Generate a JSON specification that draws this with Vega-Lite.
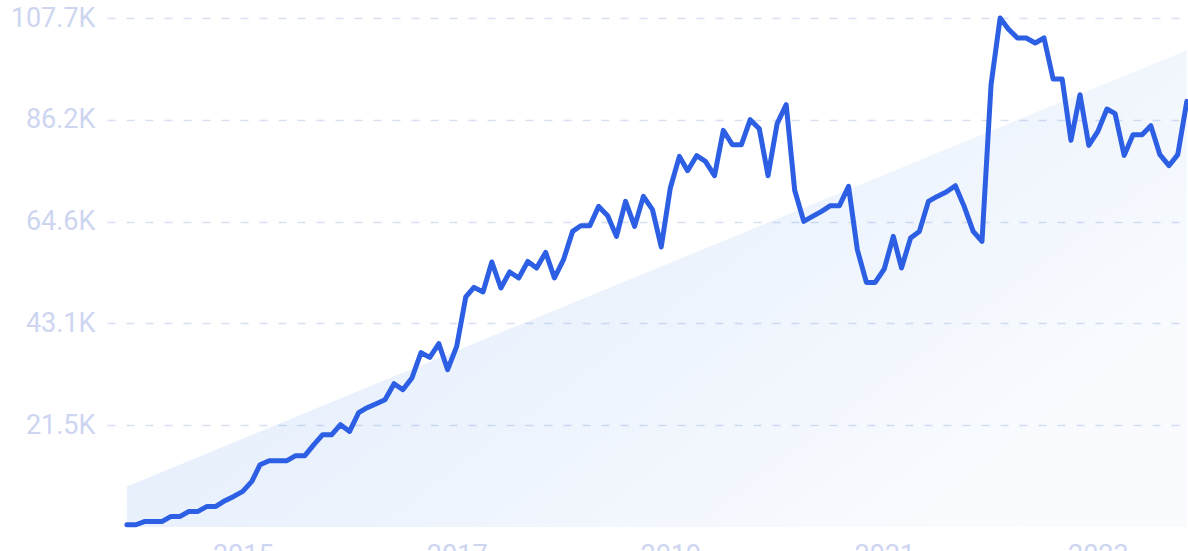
{
  "$schema": "https://vega.github.io/schema/vega-lite/v6.json",
  "width": 1081,
  "height": 509,
  "autosize": {"type": "none"},
  "padding": {"left": 107, "top": 18, "right": 0, "bottom": 24},
  "background": "#ffffff",
  "config": {"view": {"stroke": null}},
  "datasets": {
    "trend": [
      {"d": "2013-12-01", "t": 8590},
      {"d": "2023-11-01", "t": 100890}
    ],
    "series": [
      {"d": "2013-12-01", "v": 480}, {"d": "2014-01-01", "v": 480}, {"d": "2014-02-01", "v": 1185}, {"d": "2014-03-01", "v": 1185},
      {"d": "2014-04-01", "v": 1185}, {"d": "2014-05-01", "v": 2243}, {"d": "2014-06-01", "v": 2243}, {"d": "2014-07-01", "v": 3301},
      {"d": "2014-08-01", "v": 3301}, {"d": "2014-09-01", "v": 4359}, {"d": "2014-10-01", "v": 4359}, {"d": "2014-11-01", "v": 5565},
      {"d": "2014-12-01", "v": 6475}, {"d": "2015-01-01", "v": 7533}, {"d": "2015-02-01", "v": 9649}, {"d": "2015-03-01", "v": 13183},
      {"d": "2015-04-01", "v": 14029}, {"d": "2015-05-01", "v": 14029}, {"d": "2015-06-01", "v": 14029}, {"d": "2015-07-01", "v": 15087},
      {"d": "2015-08-01", "v": 15087}, {"d": "2015-09-01", "v": 17415}, {"d": "2015-10-01", "v": 19531}, {"d": "2015-11-01", "v": 19531},
      {"d": "2015-12-01", "v": 21647}, {"d": "2016-01-01", "v": 20229}, {"d": "2016-02-01", "v": 24186}, {"d": "2016-03-01", "v": 25244},
      {"d": "2016-04-01", "v": 26090}, {"d": "2016-05-01", "v": 26937}, {"d": "2016-06-01", "v": 30322}, {"d": "2016-07-01", "v": 29053},
      {"d": "2016-08-01", "v": 31528}, {"d": "2016-09-01", "v": 36882}, {"d": "2016-10-01", "v": 35887}, {"d": "2016-11-01", "v": 38786},
      {"d": "2016-12-01", "v": 33285}, {"d": "2017-01-01", "v": 38215}, {"d": "2017-02-01", "v": 48668}, {"d": "2017-03-01", "v": 50699},
      {"d": "2017-04-01", "v": 49726}, {"d": "2017-05-01", "v": 56074}, {"d": "2017-06-01", "v": 50572}, {"d": "2017-07-01", "v": 53958},
      {"d": "2017-08-01", "v": 52688}, {"d": "2017-09-01", "v": 56201}, {"d": "2017-10-01", "v": 54804}, {"d": "2017-11-01", "v": 58105},
      {"d": "2017-12-01", "v": 52688}, {"d": "2018-01-01", "v": 56561}, {"d": "2018-02-01", "v": 62549}, {"d": "2018-03-01", "v": 63755},
      {"d": "2018-04-01", "v": 63755}, {"d": "2018-05-01", "v": 67839}, {"d": "2018-06-01", "v": 65871}, {"d": "2018-07-01", "v": 61491},
      {"d": "2018-08-01", "v": 68897}, {"d": "2018-09-01", "v": 63607}, {"d": "2018-10-01", "v": 69955}, {"d": "2018-11-01", "v": 67141},
      {"d": "2018-12-01", "v": 59248}, {"d": "2019-01-01", "v": 71732}, {"d": "2019-02-01", "v": 78419}, {"d": "2019-03-01", "v": 75393},
      {"d": "2019-04-01", "v": 78567}, {"d": "2019-05-01", "v": 77361}, {"d": "2019-06-01", "v": 74335}, {"d": "2019-07-01", "v": 83921},
      {"d": "2019-08-01", "v": 80895}, {"d": "2019-09-01", "v": 80895}, {"d": "2019-10-01", "v": 86185}, {"d": "2019-11-01", "v": 84280},
      {"d": "2019-12-01", "v": 74335}, {"d": "2020-01-01", "v": 85338}, {"d": "2020-02-01", "v": 89359}, {"d": "2020-03-01", "v": 71267},
      {"d": "2020-04-01", "v": 64665}, {"d": "2020-05-01", "v": 65723}, {"d": "2020-06-01", "v": 66781}, {"d": "2020-07-01", "v": 67987},
      {"d": "2020-08-01", "v": 67987}, {"d": "2020-09-01", "v": 72071}, {"d": "2020-10-01", "v": 58677}, {"d": "2020-11-01", "v": 51757},
      {"d": "2020-12-01", "v": 51757}, {"d": "2021-01-01", "v": 54593}, {"d": "2021-02-01", "v": 61491}, {"d": "2021-03-01", "v": 54804},
      {"d": "2021-04-01", "v": 61152}, {"d": "2021-05-01", "v": 62549}, {"d": "2021-06-01", "v": 68897}, {"d": "2021-07-01", "v": 69955},
      {"d": "2021-08-01", "v": 70886}, {"d": "2021-09-01", "v": 72219}, {"d": "2021-10-01", "v": 67839}, {"d": "2021-11-01", "v": 62549},
      {"d": "2021-12-01", "v": 60433}, {"d": "2022-01-01", "v": 93591}, {"d": "2022-02-01", "v": 107700}, {"d": "2022-03-01", "v": 105377},
      {"d": "2022-04-01", "v": 103472}, {"d": "2022-05-01", "v": 103472}, {"d": "2022-06-01", "v": 102414}, {"d": "2022-07-01", "v": 103472},
      {"d": "2022-08-01", "v": 94797}, {"d": "2022-09-01", "v": 94797}, {"d": "2022-10-01", "v": 81805}, {"d": "2022-11-01", "v": 91475},
      {"d": "2022-12-01", "v": 80747}, {"d": "2023-01-01", "v": 83709}, {"d": "2023-02-01", "v": 88449}, {"d": "2023-03-01", "v": 87454},
      {"d": "2023-04-01", "v": 78631}, {"d": "2023-05-01", "v": 83011}, {"d": "2023-06-01", "v": 83011}, {"d": "2023-07-01", "v": 84915},
      {"d": "2023-08-01", "v": 78779}, {"d": "2023-09-01", "v": 76451}, {"d": "2023-10-01", "v": 78779}, {"d": "2023-11-01", "v": 90057}
    ]
  },
  "layer": [
    {
      "data": {"name": "trend"},
      "mark": {
        "type": "area",
        "line": false,
        "color": {
          "gradient": "linear",
          "x1": 0, "y1": 0, "x2": 1, "y2": 0.6,
          "stops": [
            {"offset": 0, "color": "rgba(59,130,232,0.18)"},
            {"offset": 1, "color": "rgba(59,130,232,0.03)"}
          ]
        }
      },
      "encoding": {
        "x": {
          "field": "d", "type": "temporal",
          "scale": {"domain": [{"year": 2013, "month": 9, "date": 24, "utc": true}, {"year": 2023, "month": 11, "date": 5, "utc": true}], "nice": false},
          "axis": {
            "title": null,
            "values": [
              {"year": 2015, "month": 1, "date": 1, "utc": true},
              {"year": 2017, "month": 1, "date": 1, "utc": true},
              {"year": 2019, "month": 1, "date": 1, "utc": true},
              {"year": 2021, "month": 1, "date": 1, "utc": true},
              {"year": 2023, "month": 1, "date": 1, "utc": true}
            ],
            "labelExpr": "utcFormat(datum.value, '%Y')",
            "grid": false, "domain": false, "ticks": false,
            "labelPadding": 15,
            "labelFont": "Roboto", "labelFontSize": 27,
            "labelColor": "#cdd5f1",
            "labelOverlap": false
          }
        },
        "y": {
          "field": "t", "type": "quantitative",
          "scale": {"domain": [0, 107700], "nice": false, "zero": true},
          "axis": {
            "title": null,
            "values": [21540, 43080, 64620, 86160, 107700],
            "labelExpr": "format(datum.value / 1000, '.1f') + 'K'",
            "domain": false, "ticks": false,
            "labelPadding": 12,
            "labelFont": "Roboto", "labelFontSize": 27,
            "labelColor": "#cdd5f1",
            "grid": true,
            "gridColor": "#d8e0f2",
            "gridDash": [8, 11],
            "gridWidth": 1.5
          }
        }
      }
    },
    {
      "data": {"name": "series"},
      "mark": {"type": "line", "color": "#2d5fe4", "strokeWidth": 5, "strokeJoin": "round", "strokeCap": "round"},
      "encoding": {
        "x": {"field": "d", "type": "temporal"},
        "y": {"field": "v", "type": "quantitative"}
      }
    }
  ]
}
